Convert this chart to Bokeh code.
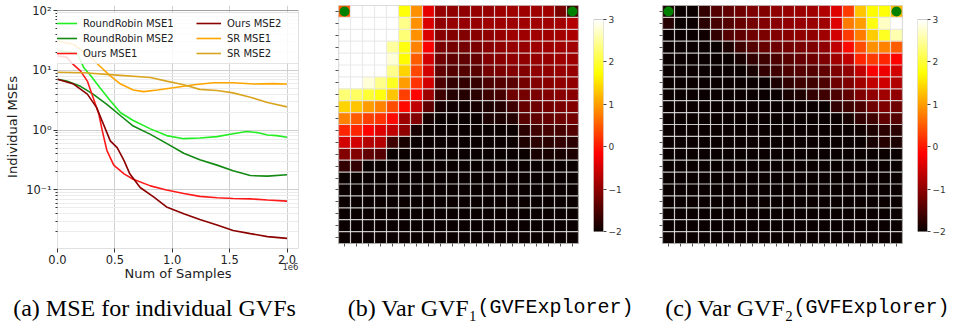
import numpy as np
from bokeh.plotting import figure
from bokeh.layouts import row, column
from bokeh.models import (FixedTicker, CustomJSTickFormatter, Legend, LegendItem,
                          LinearAxis, ColumnDataSource, BoxAnnotation, LinearColorMapper)
from bokeh.transform import linear_cmap
from bokeh.embed import file_html
from bokeh.resources import INLINE
from bokeh.core.properties import value

# ---------------- data: (a) individual MSEs ----------------
rr1_x = [0, 0.17e6, 0.23e6, 0.29e6, 0.37e6, 0.46e6, 0.55e6, 0.66e6, 0.81e6, 0.95e6, 1.10e6,
         1.24e6, 1.39e6, 1.53e6, 1.65e6, 1.74e6, 1.83e6, 1.91e6, 2.0e6]
rr1_y = [21.4, 19.5, 11.0, 8.1, 5.1, 3.1, 1.95, 1.45, 1.05, 0.81, 0.72, 0.74, 0.78, 0.87, 0.95,
         0.91, 0.83, 0.81, 0.76]
rr2_x = [0, 0.08e6, 0.20e6, 0.31e6, 0.43e6, 0.55e6, 0.66e6, 0.81e6, 0.95e6, 1.10e6, 1.24e6,
         1.39e6, 1.53e6, 1.68e6, 1.83e6, 2.0e6]
rr2_y = [7.1, 6.6, 5.4, 4.0, 2.7, 1.74, 1.17, 0.85, 0.60, 0.41, 0.32, 0.26, 0.21, 0.174, 0.17, 0.18]
ours1_x = [0, 0.08e6, 0.125e6, 0.20e6, 0.26e6, 0.31e6, 0.36e6, 0.39e6, 0.43e6, 0.49e6, 0.58e6,
           0.66e6, 0.81e6, 0.95e6, 1.10e6, 1.24e6, 1.39e6, 1.53e6, 1.68e6, 1.83e6, 2.0e6]
ours1_y = [17.4, 16.6, 13.2, 9.8, 6.6, 3.5, 1.86, 0.98, 0.46, 0.26, 0.186, 0.151, 0.117, 0.10,
           0.087, 0.078, 0.074, 0.072, 0.071, 0.068, 0.065]
ours2_x = [0, 0.14e6, 0.26e6, 0.34e6, 0.40e6, 0.46e6, 0.52e6, 0.58e6, 0.63e6, 0.72e6, 0.84e6,
           0.95e6, 1.10e6, 1.24e6, 1.39e6, 1.53e6, 1.68e6, 1.83e6, 2.0e6]
ours2_y = [7.1, 5.9, 4.0, 2.4, 1.26, 0.66, 0.51, 0.31, 0.186, 0.11, 0.076, 0.052, 0.040, 0.032,
           0.026, 0.021, 0.0186, 0.0166, 0.0155]
sr1_x = [0, 0.14e6, 0.26e6, 0.37e6, 0.46e6, 0.55e6, 0.66e6, 0.75e6, 0.87e6, 1.01e6, 1.19e6,
         1.36e6, 1.53e6, 1.71e6, 1.88e6, 2.0e6]
sr1_y = [31, 27, 18.6, 11.7, 8.1, 5.9, 4.7, 4.4, 4.7, 5.1, 5.75, 6.2, 6.2, 5.9, 6.0, 5.9]
sr2_x = [0, 0.23e6, 0.52e6, 0.81e6, 0.95e6, 1.10e6, 1.24e6, 1.39e6, 1.53e6, 1.68e6, 1.83e6, 2.0e6]
sr2_y = [9.3, 9.1, 8.3, 7.6, 6.6, 5.75, 4.8, 4.6, 4.2, 3.55, 2.9, 2.45]

series_names = ["RoundRobin MSE1", "RoundRobin MSE2", "Ours MSE1", "Ours MSE2", "SR MSE1", "SR MSE2"]
series_colors = ["#22ee22", "#138a13", "#ff1a1a", "#8b0000", "#ffa500", "#daa520"]
series_xy = [(rr1_x, rr1_y), (rr2_x, rr2_y), (ours1_x, ours1_y), (ours2_x, ours2_y),
             (sr1_x, sr1_y), (sr2_x, sr2_y)]
y_major = [0.1, 1, 10, 100]
x_major = [0, 0.5e6, 1.0e6, 1.5e6, 2.0e6]
x_lim = (0, 2.1e6)
y_lim = (0.0105, 100)
x_offset_text = "1e6"
x_offset_pos = 2.03e6

# ---------------- data: (b),(c) variance maps (log scale, rows top->bottom) -------------
var1 = [
    [0.5, 3, 3, 3, 3, 1.75, 0.9, -0.35, -0.95, -1.0, -1.0, -0.95, -0.95, -0.9, -0.9, -0.9, -0.9, -0.88, -1.15, -1.6],
    [3, 3, 3, 3, 3, 2.4, 0.9, -0.45, -1.0, -0.95, -0.95, -0.95, -0.9, -0.9, -0.9, -0.88, -0.88, -0.88, -0.85, -0.75],
    [3, 3, 3, 3, 3, 2.3, 0.9, -0.45, -1.05, -1.1, -1.1, -1.05, -1.0, -0.95, -0.9, -0.9, -0.88, -0.88, -0.85, -0.8],
    [3, 3, 3, 3, 2.5, 1.8, 0.8, -0.2, -1.15, -1.2, -1.2, -1.15, -1.05, -1.0, -0.95, -0.95, -0.9, -0.9, -0.88, -0.88],
    [3, 3, 3, 3, 2.8, 1.7, 0.5, -0.5, -1.25, -1.35, -1.35, -1.3, -1.1, -1.05, -1.0, -1.0, -0.95, -0.95, -0.9, -0.9],
    [3, 3, 3, 3, 2.4, 1.4, 0.35, -0.5, -1.35, -1.45, -1.45, -1.4, -1.2, -1.15, -1.1, -1.1, -1.0, -1.0, -0.95, -0.95],
    [3, 3, 2.8, 2.4, 1.9, 1.0, 0.2, -0.5, -1.5, -1.7, -1.7, -1.65, -1.5, -1.45, -1.4, -1.2, -1.1, -1.05, -1.0, -1.0],
    [2.3, 2.2, 2.0, 1.8, 1.3, 0.3, -0.15, -0.9, -1.6, -1.8, -1.8, -1.75, -1.6, -1.55, -1.25, -1.2, -1.15, -1.1, -1.05, -1.05],
    [1.4, 1.3, 1.0, 0.8, 0.4, -0.1, -0.65, -1.35, -1.9, -1.95, -1.95, -1.9, -1.85, -1.8, -1.6, -1.3, -1.25, -1.2, -1.15, -1.1],
    [0.8, 0.5, 0.3, 0.2, -0.1, -0.9, -1.1, -1.9, -2, -2, -2, -2, -1.85, -1.85, -1.8, -1.4, -1.35, -1.3, -1.25, -1.2],
    [0.1, 0.1, -0.15, -0.4, -0.65, -1.0, -1.9, -2, -2, -2, -2, -2, -2, -2, -2, -1.75, -1.6, -1.55, -1.55, -1.45],
    [-0.5, -0.5, -0.75, -0.75, -1.6, -1.9, -2, -2, -2, -2, -2, -2, -2, -2, -2, -1.85, -1.75, -1.75, -1.7, -1.75],
    [-1.1, -1.1, -1.35, -1.45, -2, -2, -2, -2, -2, -2, -2, -2, -2, -2, -2, -2, -1.9, -1.9, -1.9, -1.85],
    [-1.7, -1.7, -2, -2, -2, -2, -2, -2, -2, -2, -2, -2, -2, -2, -2, -2, -2, -2, -2, -2],
    [-2, -2, -2, -2, -2, -2, -2, -2, -2, -2, -2, -2, -2, -2, -2, -2, -2, -2, -2, -2],
    [-2, -2, -2, -2, -2, -2, -2, -2, -2, -2, -2, -2, -2, -2, -2, -2, -2, -2, -2, -2],
    [-2, -2, -2, -2, -2, -2, -2, -2, -2, -2, -2, -2, -2, -2, -2, -2, -2, -2, -2, -2],
    [-2, -2, -2, -2, -2, -2, -2, -2, -2, -2, -2, -2, -2, -2, -2, -2, -2, -2, -2, -2],
    [-2, -2, -2, -2, -2, -2, -2, -2, -2, -2, -2, -2, -2, -2, -2, -2, -2, -2, -2, -2],
    [-2, -2, -2, -2, -2, -2, -2, -2, -2, -2, -2, -2, -2, -2, -2, -2, -2, -2, -2, -2],
]
var2 = [
    [-1.9, -2, -2, -1.7, -1.45, -1.35, -1.25, -1.13, -1.1, -1.0, -0.95, -0.92, -0.88, -0.76, -0.4, 0.25, 1.3, 1.7, 1.75, 1.2],
    [-1.8, -2, -2, -1.75, -1.55, -1.45, -1.3, -1.2, -1.1, -1.05, -1.0, -0.95, -0.92, -0.88, -0.4, 0.75, 1.0, 1.8, 2.7, 3],
    [-2, -2, -2, -1.95, -1.7, -1.45, -1.35, -1.25, -1.15, -1.1, -1.05, -1.0, -1.0, -0.88, -0.5, 0.25, 0.75, 1.35, 1.9, 2.6],
    [-2, -2, -2, -2, -2, -1.85, -1.6, -1.45, -1.3, -1.25, -1.2, -1.15, -1.13, -1.0, -0.65, -0.1, 0.4, 0.9, 0.8, 0.5],
    [-2, -2, -2, -2, -2, -2, -1.9, -1.7, -1.6, -1.5, -1.4, -1.3, -1.25, -1.13, -0.88, -0.65, 0.1, 0.25, 0.1, -0.15],
    [-2, -2, -2, -2, -2, -2, -2, -1.9, -1.7, -1.6, -1.5, -1.45, -1.45, -1.35, -1.13, -1.0, -0.65, -0.2, -0.3, -0.5],
    [-2, -2, -2, -2, -2, -2, -2, -2, -2, -1.85, -1.7, -1.6, -1.6, -1.5, -1.25, -1.13, -0.88, -0.65, -0.53, -0.76],
    [-2, -2, -2, -2, -2, -2, -2, -2, -2, -2, -1.9, -1.85, -1.7, -1.6, -1.5, -1.35, -1.13, -1.0, -0.88, -1.0],
    [-2, -2, -2, -2, -2, -2, -2, -2, -2, -2, -2, -2, -2, -2, -1.7, -1.6, -1.5, -1.25, -1.13, -1.25],
    [-2, -2, -2, -2, -2, -2, -2, -2, -2, -2, -2, -2, -2, -2, -2, -1.9, -1.7, -1.6, -1.35, -1.45],
    [-2, -2, -2, -2, -2, -2, -2, -2, -2, -2, -2, -2, -2, -2, -2, -2, -1.95, -1.85, -1.75, -1.75],
    [-2, -2, -2, -2, -2, -2, -2, -2, -2, -2, -2, -2, -2, -2, -2, -2, -2, -1.9, -1.8, -1.85],
    [-2, -2, -2, -2, -2, -2, -2, -2, -2, -2, -2, -2, -2, -2, -2, -2, -2, -2, -2, -2],
    [-2, -2, -2, -2, -2, -2, -2, -2, -2, -2, -2, -2, -2, -2, -2, -2, -2, -2, -2, -2],
    [-2, -2, -2, -2, -2, -2, -2, -2, -2, -2, -2, -2, -2, -2, -2, -2, -2, -2, -2, -2],
    [-2, -2, -2, -2, -2, -2, -2, -2, -2, -2, -2, -2, -2, -2, -2, -2, -2, -2, -2, -2],
    [-2, -2, -2, -2, -2, -2, -2, -2, -2, -2, -2, -2, -2, -2, -2, -2, -2, -2, -2, -2],
    [-2, -2, -2, -2, -2, -2, -2, -2, -2, -2, -2, -2, -2, -2, -2, -2, -2, -2, -2, -2],
    [-2, -2, -2, -2, -2, -2, -2, -2, -2, -2, -2, -2, -2, -2, -2, -2, -2, -2, -2, -2],
    [-2, -2, -2, -2, -2, -2, -2, -2, -2, -2, -2, -2, -2, -2, -2, -2, -2, -2, -2, -2],
]
marker_rows = [0, 0]
marker_cols = [0, 19]
cbar_ticks = [-2, -1, 0, 1, 2, 3]
cbar_labels = ["\u22122", "\u22121", "0", "1", "2", "3"]
vmin, vmax = -2, 3

captions = ["(a) MSE for individual GVFs", "(b) Var GVF\u2081", "(c) Var GVF\u2082"]
caption_tt = "(GVFExplorer)"

FONT = "DejaVu Sans"

# ---- layout geometry (pixels); all plots in the row share the same borders ----
H = 285
TOP, BOTTOM = 5, 37
FRAME_H = H - TOP - BOTTOM          # 243
A_TOP_GAP = 5                       # chart (a) frame starts 5 px lower
HM_BOTTOM_GAP = 5                   # heat-maps end 5 px higher
CB_TOP_GAP, CB_BOTTOM_GAP = 14, 17  # colour-bar inset


# matplotlib "hot" colormap definition
def hot_palette(n=256):
    out = []
    for i in range(n):
        t = i / (n - 1)
        r = min(1.0, 0.0416 + (1 - 0.0416) * t / 0.365079)
        g = min(1.0, max(0.0, (t - 0.365079) / (0.746032 - 0.365079)))
        b = min(1.0, max(0.0, (t - 0.746032) / (1 - 0.746032)))
        out.append("#%02x%02x%02x" % (int(round(r * 255)), int(round(g * 255)), int(round(b * 255))))
    return out


HOT = hot_palette()


def base_fig(**kw):
    return figure(output_backend="svg", toolbar_location=None, title_location=None, **kw)


# ---------------- (a) line chart ----------------
dec = np.log10(y_lim[1] / y_lim[0]) / (FRAME_H - A_TOP_GAP)
y_top = y_lim[1] * 10 ** (dec * A_TOP_GAP)
pa = base_fig(width=320, height=H, x_range=x_lim, y_range=(y_lim[0], y_top), y_axis_type="log",
              min_border_left=57, min_border_right=22, min_border_top=TOP, min_border_bottom=BOTTOM)
pa.outline_line_color = None
renderers = []
for (xs, ys), c in zip(series_xy, series_colors):
    renderers.append(pa.line(xs, ys, line_color=c, line_width=1.6))

xax = pa.xaxis[0]
yax = pa.yaxis[0]
minor = [m * d for d in [0.01, 0.1, 1, 10] for m in range(2, 10)]
yax.ticker = FixedTicker(ticks=y_major, minor_ticks=minor)
yax.formatter = CustomJSTickFormatter(code="""
const sup = {'-':'\u207b','0':'\u2070','1':'\u00b9','2':'\u00b2','3':'\u00b3'};
const e = Math.round(Math.log10(tick));
return '10' + String(e).split('').map(c => sup[c]).join('');
""")
xax.ticker = FixedTicker(ticks=x_major)
xax.formatter = CustomJSTickFormatter(code="return (tick/1e6).toFixed(1);")
for ax in [xax, yax]:
    ax.major_label_text_font = FONT
    ax.major_label_text_font_size = "11.5px"
    ax.major_label_text_color = "#222222"
    ax.axis_label_text_font = FONT
    ax.axis_label_text_font_size = "13px"
    ax.axis_label_text_font_style = "normal"
    ax.axis_label_text_color = "#222222"
    ax.axis_line_color = None
    ax.major_tick_line_color = "#333333"
    ax.major_tick_in = 0
    ax.major_tick_out = 4
    ax.major_label_standoff = 2
    ax.axis_label_standoff = 3
xax.minor_tick_line_color = None
yax.minor_tick_line_color = "#333333"
yax.minor_tick_in = 0
yax.minor_tick_out = 2
yax.axis_label = "Individual MSEs"
pa.xgrid.grid_line_color = "#d0d0d0"
pa.ygrid.grid_line_color = "#cfcfcf"
pa.ygrid.minor_grid_line_color = "#ececec"

# second (label-only) bottom axis: offset text "1e6" and the axis title
xax2 = LinearAxis(ticker=FixedTicker(ticks=[x_offset_pos]),
                  major_label_overrides={float(x_offset_pos): x_offset_text},
                  axis_label="Num of Samples")
xax2.axis_line_color = None
xax2.major_tick_line_color = None
xax2.major_tick_in = 0
xax2.major_tick_out = 0
xax2.minor_tick_line_color = None
xax2.major_label_text_font = FONT
xax2.major_label_text_font_size = "8.5px"
xax2.major_label_text_color = "#333333"
xax2.major_label_standoff = -4
xax2.axis_label_text_font = FONT
xax2.axis_label_text_font_size = "13px"
xax2.axis_label_text_font_style = "normal"
xax2.axis_label_text_color = "#222222"
xax2.axis_label_standoff = -7
pa.add_layout(xax2, "below")

legend = Legend(items=[LegendItem(label=n, renderers=[r]) for n, r in zip(series_names, renderers)],
                ncols=2, location=(-10, 184))
legend.label_text_font = FONT
legend.label_text_font_size = "10px"
legend.label_text_color = "#222222"
legend.glyph_width = 25
legend.glyph_height = 12
legend.label_height = 12
legend.label_width = 110
legend.label_standoff = 6
legend.spacing = 3
legend.padding = 4
legend.margin = 0
legend.border_line_color = "#cccccc"
legend.background_fill_alpha = 0.85
pa.add_layout(legend)
# axes frame drawn last so it stays crisp over the legend
pa.add_layout(BoxAnnotation(left=x_lim[0], right=x_lim[1], bottom=y_lim[0], top=y_lim[1],
                            fill_color=None, line_color="#333333", line_width=1))


# ---------------- (b),(c) heatmaps ----------------
def heatmap(arr, left, right):
    n = len(arr)
    y_bottom = -n * HM_BOTTOM_GAP / (FRAME_H - HM_BOTTOM_GAP)
    p = base_fig(width=265, height=H, x_range=(0, n), y_range=(y_bottom, n),
                 min_border_left=left, min_border_right=right,
                 min_border_top=TOP, min_border_bottom=BOTTOM)
    xs, ys, vs = [], [], []
    for r, rowv in enumerate(arr):
        for c, v in enumerate(rowv):
            xs.append(c + 0.5)
            ys.append(n - r - 0.5)
            vs.append(v)
    src = ColumnDataSource(dict(x=xs, y=ys, v=vs))
    cmap = linear_cmap("v", HOT, vmin, vmax)
    p.rect("x", "y", width=1, height=1, source=src, fill_color=cmap, line_color=cmap,
           line_width=0.5)
    bounds = list(range(n + 1))
    p.segment(x0=bounds, y0=[0] * (n + 1), x1=bounds, y1=[n] * (n + 1),
              line_color="#e8e8e8", line_alpha=0.85, line_width=1.2)
    p.segment(x0=[0] * (n + 1), y0=bounds, x1=[n] * (n + 1), y1=bounds,
              line_color="#e8e8e8", line_alpha=0.85, line_width=1.2)
    p.scatter([c + 0.5 for c in marker_cols], [n - r - 0.5 for r in marker_rows],
              size=10, color="#008000", line_color=None)
    centers = [i + 0.5 for i in range(n)]
    for ax in [p.xaxis[0], p.yaxis[0]]:
        ax.ticker = FixedTicker(ticks=centers)
        ax.formatter = CustomJSTickFormatter(code="return '';")
        ax.major_label_standoff = 0
        ax.axis_line_color = None
        ax.major_tick_line_color = "#555555"
        ax.minor_tick_line_color = None
    p.yaxis.major_tick_in = 0
    p.yaxis.major_tick_out = 3
    p.xaxis.major_tick_in = HM_BOTTOM_GAP
    p.xaxis.major_tick_out = 3 - HM_BOTTOM_GAP
    p.grid.visible = False
    p.outline_line_color = None
    p.add_layout(BoxAnnotation(left=0, right=n, bottom=0, top=n, fill_color=None,
                               line_color="#555555", line_width=1.2))
    return p


def colorbar(left, right):
    per = (vmax - vmin) / (FRAME_H - CB_TOP_GAP - CB_BOTTOM_GAP)
    p = base_fig(width=left + 10 + right, height=H, x_range=(0, 1),
                 y_range=(vmin - CB_BOTTOM_GAP * per, vmax + CB_TOP_GAP * per),
                 min_border_left=left, min_border_right=right, min_border_top=TOP,
                 min_border_bottom=BOTTOM, x_axis_location=None, y_axis_location=None)
    grad = np.linspace(vmin, vmax, 256).reshape(-1, 1)
    p.image(image=[grad], x=0, y=vmin, dw=1, dh=vmax - vmin,
            color_mapper=LinearColorMapper(palette=HOT, low=vmin, high=vmax))
    ax = LinearAxis(ticker=FixedTicker(ticks=cbar_ticks),
                    major_label_overrides={float(t): l for t, l in zip(cbar_ticks, cbar_labels)})
    ax.major_label_text_font = FONT
    ax.major_label_text_font_size = "9px"
    ax.major_label_text_color = "#333333"
    ax.axis_line_color = None
    ax.major_tick_line_color = "#444444"
    ax.major_tick_in = 0
    ax.major_tick_out = 3
    ax.minor_tick_line_color = None
    ax.major_label_standoff = 2
    p.add_layout(ax, "right")
    p.grid.visible = False
    p.outline_line_color = None
    p.add_layout(BoxAnnotation(left=0, right=1, bottom=vmin, top=vmax, fill_color=None,
                               line_color="#555555", line_width=1))
    return p


pb = heatmap(var1, 18, 7)
cb1 = colorbar(8, 37)
pc = heatmap(var2, 22, 3)
cb2 = colorbar(12, 27)

# ---------------- captions ----------------
cap = base_fig(width=954, height=44, x_range=(0, 954), y_range=(0, 44), min_border=0,
               x_axis_location=None, y_axis_location=None)
cap.grid.visible = False
cap.outline_line_color = None
SERIF = value("Liberation Serif")
MONO = value("Liberation Mono")
cap.text(x=[154], y=[22], text=[captions[0]], text_font=SERIF, text_font_size="24px",
         text_align="center", text_baseline="middle", text_color="black")
cap.text(x=[477, 793], y=[22, 22], text=captions[1:], text_font=SERIF, text_font_size="24px",
         text_align="right", text_baseline="middle", text_color="black")
cap.text(x=[477, 793], y=[22, 22], text=[caption_tt, caption_tt], text_font=MONO,
         text_font_size="20px", text_align="left", text_baseline="middle", text_color="black")

layout = column(row(pa, pb, cb1, pc, cb2), cap)
open("out.html", "w").write(file_html(layout, INLINE))
